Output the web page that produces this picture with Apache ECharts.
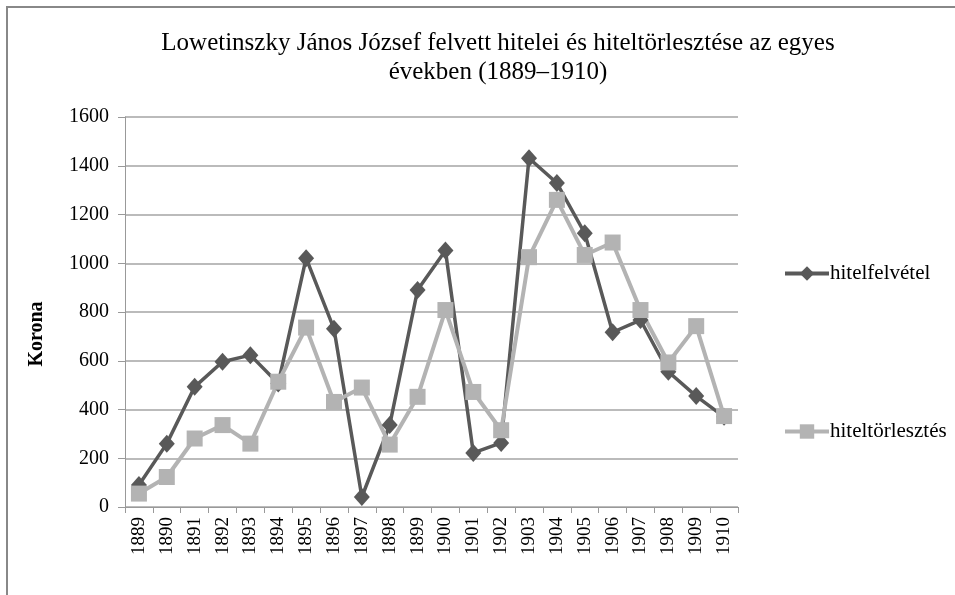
<!DOCTYPE html>
<html>
<head>
<meta charset="utf-8">
<script src="https://cdn.jsdelivr.net/npm/echarts@6/dist/echarts.min.js"></script>
<style>
  html, body { margin: 0; padding: 0; background: #fff; }
  #chart { width: 955px; height: 595px; }
</style>
</head>
<body>
<div id="chart"></div>
<script>
// years on the x axis
const years = ["1889", "1890", "1891", "1892", "1893", "1894", "1895", "1896", "1897", "1898", "1899",
  "1900", "1901", "1902", "1903", "1904", "1905", "1906", "1907", "1908", "1909", "1910"];

// borrowed amounts (Korona)
const hitelfelvetel = [90, 260, 493, 596, 623, 507, 1021, 731, 41, 336, 890,
  1052, 222, 263, 1431, 1329, 1123, 717, 767, 555, 455, 370];

// repayments (Korona)
const hiteltorlesztes = [55, 123, 281, 336, 260, 514, 736, 431, 490, 256, 452,
  808, 472, 315, 1025, 1260, 1034, 1085, 808, 593, 742, 373];

const serif = "'Liberation Serif', 'Times New Roman', serif";

const chart = echarts.init(document.getElementById("chart"));

const option = {
  backgroundColor: "#fff",
  animation: false,
  title: {
    text: "Lowetinszky János József felvett hitelei és hiteltörlesztése az egyes\névekben (1889–1910)",
    left: 493,
    top: 24,
    textAlign: "center",
    textStyle: {
      fontFamily: serif,
      fontWeight: "normal",
      fontSize: 25,
      lineHeight: 29,
      color: "#000"
    }
  },
  graphic: [
    {
      type: "rect",
      silent: true,
      shape: { x: 7, y: 7, width: 1000, height: 700 },
      style: { fill: "none", stroke: "#888", lineWidth: 2 }
    },
    {
      // y axis title
      type: "text",
      silent: true,
      x: 37,
      y: 334,
      rotation: Math.PI / 2,
      style: {
        text: "Korona",
        font: "bold 20px " + serif,
        fill: "#000",
        align: "center",
        verticalAlign: "middle"
      }
    }
  ],
  legend: {
    orient: "vertical",
    left: 778,
    top: 258,
    itemGap: 137,
    itemWidth: 44,
    itemHeight: 18,
    lineStyle: { width: 4 },
    textStyle: { fontFamily: serif, fontSize: 21, color: "#000", padding: [0, 0, 0, -4] },
    data: ["hitelfelvétel", "hiteltörlesztés"]
  },
  grid: {
    left: 125,
    top: 117,
    width: 613,
    height: 390
  },
  xAxis: {
    type: "category",
    data: years,
    boundaryGap: true,
    axisLine: { lineStyle: { color: "#999", width: 1 } },
    axisTick: { show: true, length: 6, lineStyle: { color: "#999" } },
    axisLabel: {
      rotate: 90,
      margin: 10,
      interval: 0,
      fontFamily: serif,
      fontSize: 19,
      color: "#000"
    }
  },
  yAxis: {
    type: "value",
    min: 0,
    max: 1600,
    interval: 200,
    axisLine: { show: true, lineStyle: { color: "#999", width: 1 } },
    axisTick: { show: true, length: 7, lineStyle: { color: "#999" } },
    axisLabel: {
      margin: 16,
      fontFamily: serif,
      fontSize: 20,
      color: "#000",
      formatter: (v) => String(v)
    },
    splitLine: { lineStyle: { color: "#bbb", width: 2 } }
  },
  series: [
    {
      name: "hitelfelvétel",
      type: "line",
      data: hitelfelvetel,
      symbol: "diamond",
      symbolSize: [16, 18],
      color: "#595959",
      lineStyle: { color: "#595959", width: 3.5 },
      itemStyle: { color: "#595959" }
    },
    {
      name: "hiteltörlesztés",
      type: "line",
      data: hiteltorlesztes,
      symbol: "rect",
      symbolSize: 16,
      color: "#b3b3b3",
      lineStyle: { color: "#b3b3b3", width: 4 },
      itemStyle: { color: "#b3b3b3" }
    }
  ]
};

chart.setOption(option);
</script>
</body>
</html>
